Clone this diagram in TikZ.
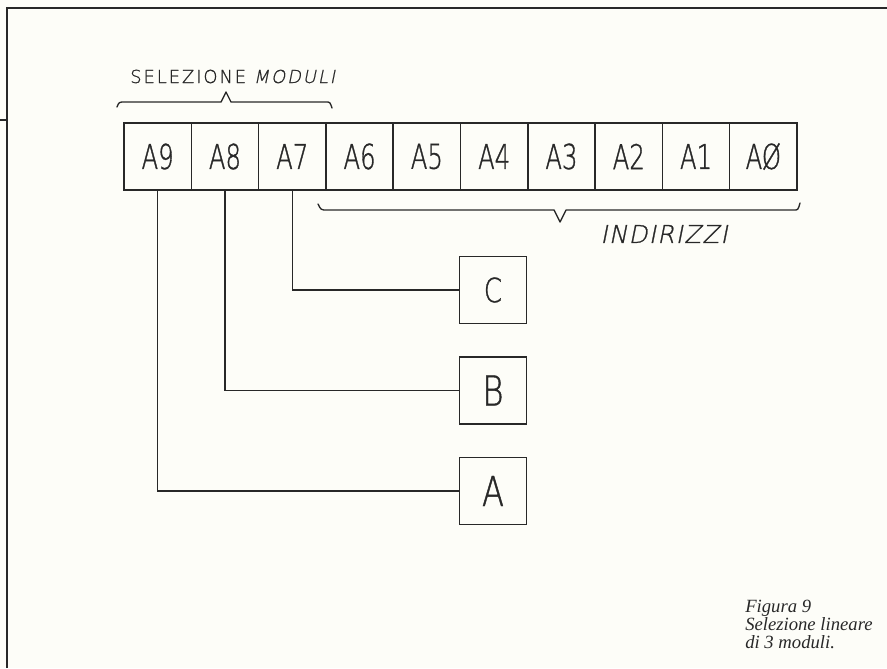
\documentclass[tikz,border=0pt]{standalone}
\usepackage{fontspec}
\setmainfont{Liberation Serif}
\newfontfamily\handcell[FakeStretch=0.71,FakeBold=1]{DejaVuSans-ExtraLight.ttf}
\newfontfamily\handbox[FakeStretch=0.78,FakeBold=1]{DejaVuSans-ExtraLight.ttf}
\newfontfamily\handtop[LetterSpace=11,FakeBold=1]{DejaVuSans-ExtraLight.ttf}
\newfontfamily\handslant[FakeSlant=0.2,LetterSpace=11,FakeBold=1]{DejaVuSans-ExtraLight.ttf}
\newfontfamily\handind[FakeSlant=0.2,LetterSpace=5,FakeBold=1]{DejaVuSans-ExtraLight.ttf}
\definecolor{paper}{RGB}{253,253,248}
\definecolor{ink}{RGB}{40,40,40}
\begin{document}
\begin{tikzpicture}[x=0.75pt,y=-0.75pt,
  cell/.style={draw=ink, line width=1.1pt, minimum width=50.5pt, minimum height=50.25pt, inner sep=0pt, text=ink, font=\handcell\fontsize{25.7}{26}\selectfont},
  modbox/.style={draw=ink, line width=1.1pt, minimum width=50.5pt, minimum height=50pt, inner sep=0pt, text=ink, font=\handbox\fontsize{30.9}{31}\selectfont},
  wire/.style={draw=ink, line width=1pt},
  brace/.style={draw=ink, line width=1pt, line join=round, line cap=round},
  frameline/.style={draw=ink, line width=1.6pt},
  lettering/.style={inner sep=0pt, text=ink}]
\fill[paper] (0,0) rectangle (887,668);
\useasboundingbox (0,0) rectangle (887,668);

% frame
\draw[frameline] (7,668) -- (7,8) -- (887,8);
\draw[frameline] (0,120) -- (7,120);

% address cells
\node[cell] (a9) at (157.65,156.5) {A9};
\node[cell] (a8) at (224.95,156.5) {A8};
\node[cell] (a7) at (292.25,156.5) {A7};
\node[cell] (a6) at (359.55,156.5) {A6};
\node[cell] (a5) at (426.85,156.5) {A5};
\node[cell] (a4) at (494.15,156.5) {A4};
\node[cell] (a3) at (561.45,156.5) {A3};
\node[cell] (a2) at (628.75,156.5) {A2};
\node[cell] (a1) at (696.05,156.5) {A1};
\node[cell] (a0) at (763.35,156.5) {AØ};

% module boxes
\node[modbox, font=\handbox\fontsize{25}{25}\selectfont] (C) at (493,290) {C};
\node[modbox] (B) at (493,390.5) {B};
\node[modbox] (A) at (493,491) {A};

% wires
\draw[wire] (a7.south) |- (C.west);
\draw[wire] (a8.south) |- (B.west);
\draw[wire] (a9.south) |- (A.west);

% top brace
\draw[brace] (117,107) .. controls (119,102) .. (125,102) -- (221,102) -- (226,92) -- (231,102) -- (326,102) .. controls (330,102) .. (332,108);
\node[lettering, anchor=west, font=\handtop\fontsize{13.4}{14}\selectfont] (sel) at (130,76.5) {SELEZIONE {\handslant MODULI}};

% bottom brace
\draw[brace] (318,204) .. controls (321,210) .. (327,210) -- (554,210) -- (560,222) -- (566,210) -- (794,210) .. controls (798,210) .. (800,203);
\node[lettering, font=\handind\fontsize{18.5}{19}\selectfont] (ind) at (664,234) {INDIRIZZI};

% caption
\node[anchor=base west, align=left, inner sep=0pt, text=ink, font=\itshape\fontsize{14}{13.5}\selectfont] (cap) at (745,648) {Figura 9\\Selezione lineare\\di 3 moduli.};
\end{tikzpicture}
\end{document}
